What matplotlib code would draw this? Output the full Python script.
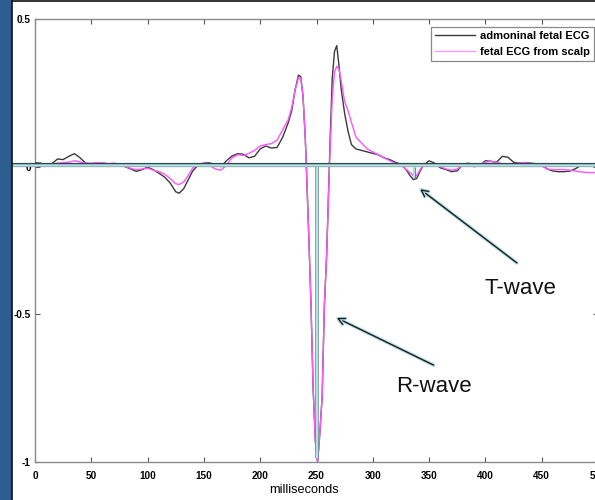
import matplotlib
matplotlib.use("Agg")
import matplotlib.pyplot as plt
from matplotlib.lines import Line2D
from matplotlib.patches import Rectangle
import matplotlib.patheffects as pe

plt.rcParams['font.family'] = ['Liberation Sans', 'DejaVu Sans']

# ---- data ----
t_ms = [0, 5, 10, 15, 20, 25, 30, 35, 40, 45, 50, 55, 60, 65, 70, 75, 80, 85, 90, 95,
        100, 105, 110, 115, 120, 125, 128, 132, 136, 140, 145, 150, 155, 160, 165, 170,
        175, 180, 185, 190, 195, 200, 205, 210, 215, 220, 225, 228, 231, 234, 236, 238,
        240, 241, 243, 245, 247, 249, 251, 253, 255, 257, 259, 261, 262, 264, 266, 268,
        270, 272, 275, 278, 281, 285, 290, 295, 300, 305, 310, 315, 320, 325, 330, 333,
        336, 339, 342, 345, 350, 355, 360, 365, 370, 375, 380, 385, 390, 395, 400, 405,
        410, 415, 420, 425, 430, 435, 440, 445, 450, 455, 460, 465, 470, 475, 480, 485,
        490, 495, 500]

abdominal = [0.013, 0.012, 0.005, 0.010, 0.026, 0.024, 0.035, 0.044, 0.030, 0.012,
             0.008, 0.010, 0.012, 0.010, 0.010, 0.008, 0.000, -0.008, -0.016, -0.010,
             -0.002, -0.010, -0.022, -0.035, -0.055, -0.085, -0.090, -0.075, -0.045, -0.015,
             0.006, 0.012, 0.013, 0.006, 0.000, 0.020, 0.036, 0.044, 0.042, 0.030,
             0.035, 0.060, 0.070, 0.063, 0.065, 0.100, 0.150, 0.190, 0.260, 0.310,
             0.305, 0.240, 0.100, 0.000, -0.220, -0.450, -0.750, -0.930, -1.000, -0.900,
             -0.780, -0.470, -0.300, -0.050, 0.080, 0.300, 0.390, 0.410, 0.340, 0.260,
             0.180, 0.120, 0.075, 0.060, 0.055, 0.050, 0.045, 0.040, 0.030, 0.024,
             0.015, 0.008, -0.012, -0.030, -0.044, -0.040, -0.015, 0.005, 0.020, 0.012,
             -0.004, -0.010, -0.017, -0.014, 0.008, 0.012, 0.000, 0.004, 0.020, 0.018,
             0.015, 0.035, 0.032, 0.015, 0.012, 0.014, 0.012, 0.010, 0.005, -0.008,
             -0.015, -0.017, -0.017, -0.015, -0.007, 0.005, 0.010, 0.010, 0.010]

scalp = [0.010, 0.008, 0.005, 0.008, 0.012, 0.014, 0.015, 0.020, 0.016, 0.012,
         0.012, 0.014, 0.012, 0.010, 0.012, 0.008, 0.000, -0.006, -0.010, -0.008,
         -0.005, -0.012, -0.017, -0.025, -0.040, -0.058, -0.060, -0.052, -0.030, -0.005,
         0.008, 0.012, 0.005, -0.008, -0.012, 0.005, 0.030, 0.040, 0.038, 0.045,
         0.055, 0.070, 0.075, 0.078, 0.090, 0.125, 0.160, 0.200, 0.260, 0.300,
         0.300, 0.240, 0.100, 0.000, -0.220, -0.450, -0.750, -0.930, -1.000, -0.900,
         -0.780, -0.470, -0.300, -0.060, 0.050, 0.230, 0.320, 0.340, 0.330, 0.290,
         0.220, 0.190, 0.150, 0.100, 0.080, 0.060, 0.050, 0.040, 0.030, 0.020,
         0.012, 0.005, -0.010, -0.020, -0.030, -0.030, -0.010, 0.005, 0.010, 0.008,
         0.000, -0.008, -0.012, -0.008, 0.005, 0.008, 0.008, 0.008, 0.015, 0.018,
         0.015, 0.010, 0.008, 0.010, 0.012, 0.014, 0.010, 0.008, 0.002, -0.008,
         -0.010, -0.010, -0.010, -0.012, -0.015, -0.018, -0.020, -0.020, -0.020]

series_labels = ["admoninal fetal ECG", "fetal ECG from scalp"]
x_ticks = [0, 50, 100, 150, 200, 250, 300, 350, 400, 450, 500]
y_ticks = [-1, -0.5, 0, 0.5]
y_tick_labels = ["-1", "-0.5", "0", "0.5"]

# ---- figure ----
W, H = 595, 500
fig = plt.figure(figsize=(W / 100, H / 100), dpi=100)
fig.patch.set_facecolor('white')

# blue slide border on the left
fig.patches.append(Rectangle((0, 0), 11.5 / W, 1, transform=fig.transFigure,
                             facecolor='#2E5E90', edgecolor='none', zorder=0))
fig.add_artist(Line2D([11.8 / W, 11.8 / W], [0, 1 - 1 / H], transform=fig.transFigure,
                      color='#111111', lw=1.2))
fig.add_artist(Line2D([11.8 / W, 1], [1 - 1.2 / H, 1 - 1.2 / H], transform=fig.transFigure,
                      color='#111111', lw=1.2))

left, right = 35 / W, 598 / W
bottom, top = 1 - 462 / H, 1 - 19 / H
ax = fig.add_axes([left, bottom, right - left, top - bottom])
ax.set_xlim(0, 500)
ax.set_ylim(-1, 0.5)

ax.plot(t_ms, abdominal, color='#3a3a3a', lw=1.0, label=series_labels[0], zorder=3)
ax.plot(t_ms, scalp, color='#FF55FF', lw=1.0, label=series_labels[1], zorder=4)

for s in ax.spines.values():
    s.set_color('#8a8a8a')
    s.set_linewidth(1.0)
ax.tick_params(direction='in', length=3.8, width=0.8, color='#555555',
               top=True, right=True, labelsize=7.2)
ax.tick_params(axis='x', pad=6.5)
ax.tick_params(axis='y', pad=3)
ax.set_xticks(x_ticks)
ax.set_xticklabels([str(v) for v in x_ticks], fontweight='bold')
ax.set_yticks(y_ticks)
ax.set_yticklabels(y_tick_labels, fontweight='bold')

fig.text(304 / W, 1 - 490 / H, "milliseconds", ha='center', va='center', fontsize=9.2)

# legend
leg = ax.legend(loc='upper right', bbox_to_anchor=(594 / W, 1 - 27 / H),
                bbox_transform=fig.transFigure, borderaxespad=0,
                fancybox=False, framealpha=1, edgecolor='#8a8a8a',
                prop={'size': 8, 'weight': 'bold'}, handlelength=3.6,
                handletextpad=0.45, borderpad=0.35, labelspacing=0.55)
leg.get_frame().set_linewidth(0.9)
leg.get_lines()[1].set_color('#FF99FF')

# cyan marker lines (drawn over the chart)
cyan = '#B4E0E4'
x_to_data = lambda px: (px - 35) / (563 / 500)
hl = ax.plot([x_to_data(7), 500], [0.004, 0.004], color=cyan, lw=1.8, clip_on=False, zorder=6,
             solid_capstyle='butt')[0]
hl.set_path_effects([pe.Stroke(linewidth=3.0, foreground='#2a4a4e'), pe.Normal()])
vl = ax.plot([250, 250], [0, -0.985], color=cyan, lw=1.6, zorder=6,
             solid_capstyle='butt')[0]
vl.set_path_effects([pe.Stroke(linewidth=2.6, foreground='#6a8a8c'), pe.Normal()])
vt = ax.plot([337, 337], [0, -0.038], color=cyan, lw=1.4, zorder=6,
             solid_capstyle='butt')[0]
vt.set_path_effects([pe.Stroke(linewidth=2.4, foreground='#6a8a8c'), pe.Normal()])

# annotations
arrow_fx = [pe.Stroke(linewidth=2.6, foreground=cyan), pe.Normal()]
a1 = ax.annotate("", xy=(342, -0.076), xytext=(428, -0.326),
                 arrowprops=dict(arrowstyle='->', color='#1a1a1a', lw=1.0,
                                 shrinkA=0, shrinkB=0, mutation_scale=12))
a1.arrow_patch.set_path_effects(arrow_fx)
a2 = ax.annotate("", xy=(268, -0.512), xytext=(354, -0.672),
                 arrowprops=dict(arrowstyle='->', color='#1a1a1a', lw=1.0,
                                 shrinkA=0, shrinkB=0, mutation_scale=12))
a2.arrow_patch.set_path_effects(arrow_fx)
ax.text(431, -0.414, "T-wave", ha='center', va='center', fontsize=16, color='#111111')
ax.text(354, -0.746, "R-wave", ha='center', va='center', fontsize=16, color='#111111')

fig.savefig("out.png", dpi=100)
